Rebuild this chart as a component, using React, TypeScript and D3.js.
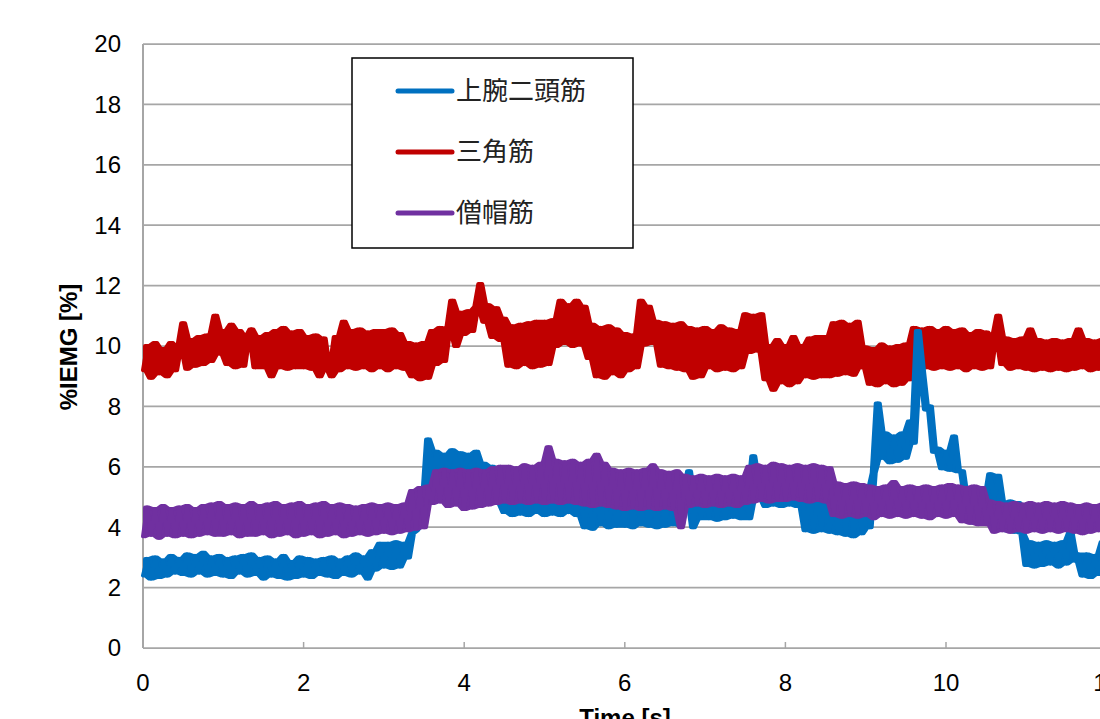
import React from "react";
import * as d3 from "d3";

const DT = 0.05; // sampling interval of the series [s]

const bicepsValues: number[] = [
  2.4, 2.95, 2.3, 3.0, 2.35, 2.9, 2.4, 3.05, 2.5, 2.95,
  2.45, 3.1, 2.4, 3.05, 2.5, 3.15, 2.4, 3.0, 2.45, 3.05,
  2.4, 2.95, 2.35, 3.0, 2.5, 3.05, 2.4, 3.1, 2.45, 2.95,
  2.3, 3.0, 2.4, 2.9, 2.35, 3.05, 2.3, 2.85, 2.35, 3.0,
  2.4, 2.95, 2.35, 2.9, 2.45, 2.95, 2.4, 3.0, 2.35, 2.9,
  2.45, 3.0, 2.4, 3.1, 2.5, 3.0, 2.3, 3.2, 2.6, 3.45,
  2.7, 3.45, 2.65, 3.5, 2.7, 3.45, 3.0, 3.8, 3.9, 4.9,
  4.1, 6.9, 5.6, 6.5, 5.8, 6.4, 5.85, 6.55, 5.8, 6.45,
  5.8, 6.4, 5.85, 6.5, 5.75, 6.1, 5.0, 6.0, 4.8, 5.4,
  4.5, 5.3, 4.4, 5.2, 4.45, 5.3, 4.4, 5.35, 4.5, 5.25,
  4.4, 5.1, 4.45, 5.0, 4.4, 5.1, 4.5, 5.05, 4.4, 5.0,
  4.0, 5.0, 3.95, 4.9, 4.1, 5.0, 4.0, 4.95, 4.05, 5.0,
  4.05, 5.0, 4.0, 4.95, 4.1, 5.0, 4.05, 4.9, 4.0, 5.05,
  4.05, 5.0, 4.1, 4.95, 4.05, 5.0, 5.85, 4.0, 4.9, 4.3,
  5.0, 4.3, 5.05, 4.25, 4.95, 4.3, 5.0, 4.35, 5.1, 4.3,
  5.0, 4.3, 6.35, 5.0, 5.5, 4.7, 5.5, 4.75, 5.45, 4.7,
  5.5, 4.75, 5.45, 4.7, 5.4, 3.9, 5.0, 3.85, 4.95, 3.9,
  5.0, 3.85, 4.95, 3.8, 5.0, 3.75, 4.95, 3.7, 5.1, 3.8,
  5.2, 4.0, 5.8, 8.1, 6.3, 7.1, 6.15, 7.0, 6.2, 7.1,
  6.3, 7.5, 6.8, 10.5, 9.2, 7.9, 8.0, 6.5, 6.6, 5.95,
  6.5, 5.9, 7.0, 5.85, 5.85, 4.9, 4.85, 4.15, 4.85, 4.2,
  4.9, 5.75, 4.85, 5.7, 4.8, 3.9, 4.85, 3.85, 4.8, 3.8,
  2.75, 3.5, 2.7, 3.45, 2.75, 3.5, 2.8, 3.45, 2.7, 3.5,
  2.8, 3.85, 2.9, 3.1, 2.4, 3.1, 2.35, 3.05, 2.45, 3.5,
  3.5,
];

const deltoidValues: number[] = [
  9.2, 10.0, 8.95, 10.1, 9.1, 9.9, 9.0, 10.1, 9.2, 9.95,
  10.75, 9.25, 10.2, 9.35, 10.3, 9.4, 10.35, 9.5, 11.0, 9.75,
  10.5, 9.4, 10.7, 9.3, 10.5, 9.35, 10.3, 10.55, 9.3, 10.3,
  9.3, 10.4, 9.0, 10.5, 9.3, 10.6, 9.25, 10.45, 9.3, 10.5,
  9.3, 10.3, 9.25, 10.35, 9.0, 10.25, 9.3, 9.0, 10.3, 9.2,
  10.8, 9.3, 10.5, 9.25, 10.55, 9.3, 10.45, 9.2, 10.5, 9.3,
  10.5, 9.2, 10.55, 9.3, 10.4, 9.25, 10.1, 9.0, 10.05, 8.9,
  10.1, 8.95, 10.5, 9.4, 10.6, 9.5, 10.55, 11.5, 10.0, 11.1,
  10.4, 11.15, 10.5, 11.3, 12.05, 10.8, 11.35, 10.3, 11.25, 10.2,
  10.9, 9.35, 10.65, 9.3, 10.7, 9.4, 10.75, 9.3, 10.8, 9.35,
  10.8, 9.4, 10.85, 10.0, 11.5, 10.1, 11.35, 10.0, 11.5, 10.05,
  11.3, 9.6, 10.7, 9.0, 10.6, 8.95, 10.65, 9.1, 10.55, 9.0,
  10.4, 9.2, 10.35, 9.3, 11.5, 10.05, 11.3, 10.1, 10.8, 9.35,
  10.75, 9.3, 10.7, 9.25, 10.75, 9.2, 10.6, 8.95, 10.55, 9.0,
  10.6, 9.3, 10.5, 9.2, 10.65, 9.25, 10.55, 9.2, 10.5, 9.3,
  11.05, 9.8, 11.0, 9.85, 11.05, 8.9, 10.0, 8.55, 10.2, 8.8,
  10.0, 8.7, 10.3, 8.8, 10.0, 9.0, 10.25, 8.95, 10.3, 9.0,
  10.3, 9.0, 10.75, 9.05, 10.8, 9.1, 10.7, 9.05, 10.8, 9.3,
  9.95, 8.75, 9.9, 8.7, 10.05, 8.8, 9.95, 8.7, 10.0, 8.75,
  10.05, 8.9, 10.6, 9.25, 10.55, 9.3, 10.6, 9.25, 10.5, 9.3,
  10.6, 9.25, 10.5, 9.3, 10.55, 9.2, 10.4, 9.3, 10.5, 9.25,
  10.45, 9.3, 10.3, 11.0, 9.4, 10.25, 9.25, 10.2, 9.3, 10.25,
  9.25, 10.55, 9.2, 10.2, 9.25, 10.15, 9.2, 10.2, 9.25, 10.15,
  9.2, 10.2, 9.25, 10.55, 9.3, 10.2, 9.2, 10.15, 9.25, 10.2,
  9.3,
];

const trapeziusValues: number[] = [
  3.7, 4.65, 3.75, 4.6, 3.65, 4.7, 3.75, 4.6, 3.7, 4.65,
  3.75, 4.7, 3.7, 4.6, 3.75, 4.7, 3.8, 4.75, 3.75, 4.8,
  3.75, 4.7, 3.8, 4.75, 3.7, 4.7, 3.75, 4.8, 3.75, 4.7,
  3.8, 4.75, 3.7, 4.8, 3.75, 4.7, 3.8, 4.75, 3.7, 4.8,
  3.75, 4.7, 3.8, 4.75, 3.7, 4.8, 3.75, 4.7, 3.8, 4.75,
  3.7, 4.7, 3.75, 4.65, 3.8, 4.7, 3.75, 4.75, 3.8, 4.7,
  3.85, 4.75, 3.8, 4.7, 3.85, 4.75, 3.9, 5.2, 3.95, 5.3,
  4.0, 5.35, 4.8, 5.85, 4.85, 5.9, 4.7, 5.85, 4.75, 5.9,
  4.6, 5.85, 4.65, 5.9, 4.7, 5.85, 4.75, 5.95, 4.8, 6.0,
  4.85, 6.0, 4.8, 5.95, 4.85, 6.05, 4.8, 6.0, 4.85, 6.1,
  4.8, 6.65, 4.85, 6.2, 4.8, 6.15, 4.85, 6.2, 4.8, 6.1,
  4.75, 6.2, 4.7, 6.4, 4.75, 6.1, 4.7, 5.9, 4.65, 5.85,
  4.6, 5.9, 4.65, 5.85, 4.6, 5.9, 4.65, 6.05, 4.6, 5.85,
  4.65, 5.8, 4.6, 5.85, 4.0, 5.7, 4.7, 5.65, 4.75, 5.7,
  4.7, 5.65, 4.75, 5.7, 4.7, 5.65, 4.75, 5.7, 4.7, 5.65,
  4.8, 6.0, 4.85, 6.05, 4.9, 6.0, 4.85, 6.1, 4.9, 6.05,
  4.9, 6.0, 4.95, 6.05, 4.9, 6.0, 4.85, 6.05, 4.9, 6.0,
  4.85, 5.95, 4.4, 5.45, 4.35, 5.4, 4.4, 5.45, 4.35, 5.4,
  4.4, 5.35, 4.3, 5.3, 4.4, 5.35, 4.35, 5.5, 4.4, 5.3,
  4.35, 5.35, 4.4, 5.3, 4.35, 5.35, 4.3, 5.3, 4.4, 5.35,
  4.35, 5.4, 4.4, 5.35, 4.2, 5.3, 4.15, 5.35, 4.1, 5.3,
  4.1, 4.85, 3.85, 4.8, 3.9, 4.75, 3.85, 4.8, 3.9, 4.75,
  3.85, 4.8, 3.9, 4.75, 3.85, 4.8, 3.9, 4.75, 3.85, 4.8,
  3.9, 4.75, 3.85, 4.7, 3.8, 4.75, 3.85, 4.7, 3.9, 4.75,
  4.0,
];

const seriesNames = ["上腕二頭筋", "三角筋", "僧帽筋"];
const seriesColors = ["#0070C0", "#C00000", "#7030A0"];
const xTicks = [0, 2, 4, 6, 8, 10, 12];
const yTicks = [0, 2, 4, 6, 8, 10, 12, 14, 16, 18, 20];

const W = 1100;
const H = 719;
const FONT = "'Liberation Sans', Arial, sans-serif";
const CJK = "'Noto Sans CJK JP', 'Noto Sans', sans-serif";

export default function App() {
  const x = d3.scaleLinear().domain([0, 12]).range([143, 1106.6]);
  const y = d3.scaleLinear().domain([0, 20]).range([648, 44]);

  const line = d3
    .line<number>()
    .x((_, i) => x(i * DT))
    .y((v) => y(v));

  // band between each pair of consecutive samples (fills the dense trace)
  const band = (vals: number[]) => {
    const pairs = d3.pairs(vals);
    return (
      d3
        .area<[number, number]>()
        .x((_, i) => x((i + 0.5) * DT))
        .y0((p) => y(Math.min(p[0], p[1])))
        .y1((p) => y(Math.max(p[0], p[1])))(pairs) || ""
    );
  };

  const allSeries = [bicepsValues, deltoidValues, trapeziusValues];
  // drawing order: deltoid, biceps, trapezius
  const drawOrder = [1, 0, 2];

  const gridColor = "#A6A6A6";

  return (
    <div style={{ position: "absolute", left: 0, top: 0 }}>
      <svg width={W} height={H} style={{ display: "block", background: "#fff" }}>
        {/* gridlines */}
        {yTicks.map((t) => (
          <line
            key={"g" + t}
            x1={x(0)}
            x2={x(12)}
            y1={y(t)}
            y2={y(t)}
            stroke={gridColor}
            strokeWidth={1.75}
          />
        ))}
        {/* left axis */}
        <line x1={x(0)} x2={x(0)} y1={y(20)} y2={y(0)} stroke={gridColor} strokeWidth={2} />
        {/* x ticks (inward) */}
        {xTicks.map((t) => (
          <line
            key={"xt" + t}
            x1={x(t)}
            x2={x(t)}
            y1={y(0)}
            y2={y(0) - 6}
            stroke={gridColor}
            strokeWidth={1.5}
          />
        ))}
        {/* y tick labels */}
        {yTicks.map((t) => (
          <text
            key={"yl" + t}
            x={121}
            y={y(t)}
            dy="0.35em"
            textAnchor="end"
            fontFamily={FONT}
            fontSize={24}
            fill="#000"
          >
            {t}
          </text>
        ))}
        {/* x tick labels */}
        {xTicks.map((t) => (
          <text
            key={"xl" + t}
            x={x(t)}
            y={683}
            dy="0.35em"
            textAnchor="middle"
            fontFamily={FONT}
            fontSize={24}
            fill="#000"
          >
            {t}
          </text>
        ))}
        {/* axis titles */}
        <text
          x={625}
          y={726}
          textAnchor="middle"
          fontFamily={FONT}
          fontSize={24}
          fontWeight="bold"
        >
          Time [s]
        </text>
        <text
          transform={`translate(77, 347) rotate(-90)`}
          textAnchor="middle"
          fontFamily={FONT}
          fontSize={24}
          fontWeight="bold"
        >
          %IEMG [%]
        </text>
        {/* series */}
        <g>
          {drawOrder.map((si) => (
            <g key={"s" + si}>
              <path
                d={band(allSeries[si])}
                fill={seriesColors[si]}
                stroke={seriesColors[si]}
                strokeWidth={4}
                strokeLinejoin="round"
              />
              <path
                d={line(allSeries[si]) || ""}
                fill="none"
                stroke={seriesColors[si]}
                strokeWidth={4}
                strokeLinejoin="round"
                strokeLinecap="round"
              />
            </g>
          ))}
        </g>
        {/* legend */}
        <g>
          <rect x={352} y={58} width={281} height={190} fill="#fff" stroke="#000" strokeWidth={1.5} />
          {seriesNames.map((name, i) => (
            <g key={"lg" + i}>
              <line
                x1={398}
                x2={452}
                y1={91 + i * 61}
                y2={91 + i * 61}
                stroke={seriesColors[i]}
                strokeWidth={5}
                strokeLinecap="round"
              />
              <text
                x={456}
                y={91 + i * 61}
                dy="0.36em"
                fontFamily={CJK}
                fontSize={26}
                fill="#222"
              >
                {name}
              </text>
            </g>
          ))}
        </g>
      </svg>
    </div>
  );
}
